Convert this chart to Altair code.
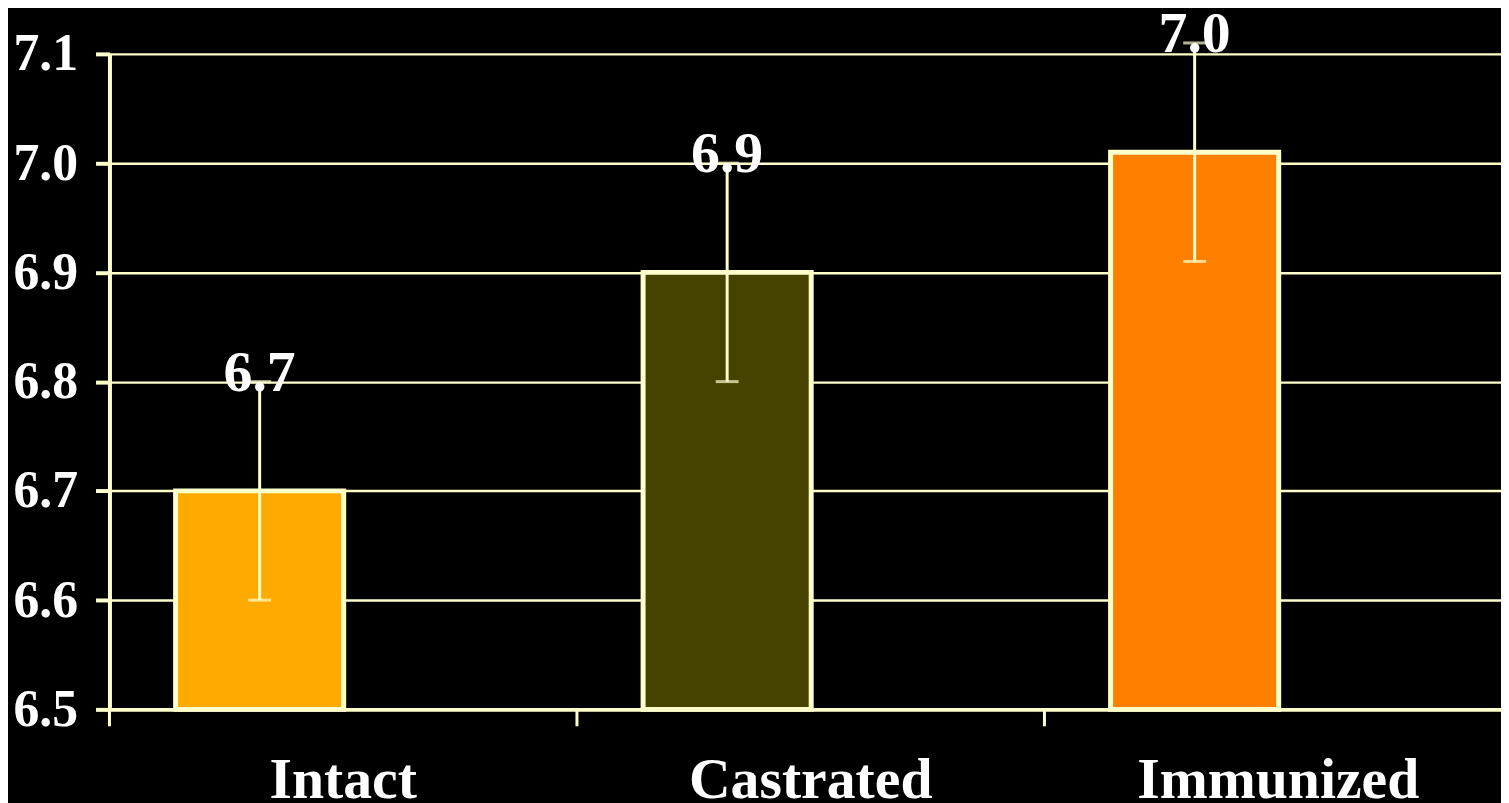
import altair as alt
import pandas as pd

categories = ["Intact", "Castrated", "Immunized"]
means = [6.70, 6.90, 7.01]
errors = [0.10, 0.10, 0.10]
value_labels = ["6.7", "6.9", "7.0"]
bar_colors = ["#FFAA00", "#464200", "#FF8000"]
y_ticks = [6.5, 6.6, 6.7, 6.8, 6.9, 7.0, 7.1]

df = pd.DataFrame({"group": categories, "mean": means, "err": errors, "label": value_labels})
df["lo"] = df["mean"] - df["err"]
df["hi"] = df["mean"] + df["err"]

CREAM = "#FFFFCC"
FONT = "Liberation Serif"
W = 1399
H = 659
OFF = -84

xscale = alt.Scale(domain=categories, range=[0, 1410], paddingInner=0, paddingOuter=0)
yscale = alt.Scale(domain=[6.5, 7.1], nice=False, zero=False)

x_lab = alt.X(
    "group:N", sort=categories, scale=xscale, title=None,
    axis=alt.Axis(
        labelAngle=0, ticks=False, tickSize=0, labelPadding=89, labelBaseline="alphabetic",
        labelFont=FONT, labelFontSize=58, labelFontWeight="bold", labelColor="white",
        labelLimit=0, labelOverlap=False,
        domainColor=CREAM, domainWidth=4, grid=False,
    ),
)
y_ax = alt.Y(
    "mean:Q", scale=yscale, title=None,
    axis=alt.Axis(
        values=y_ticks, format=".1f", grid=True, gridColor=CREAM, gridWidth=2.5,
        domainColor=CREAM, domainWidth=4, tickColor=CREAM, tickSize=14, tickWidth=4,
        labelFont=FONT, labelFontSize=52, labelFontWeight="bold", labelColor="white",
        labelPadding=18, labelOverlap=False,
    ),
)

base = alt.Chart(df)

bars = base.mark_bar(size=169, xOffset=OFF, stroke=CREAM, strokeWidth=5).encode(
    x=x_lab,
    y=y_ax,
    y2=alt.datum(6.5),
    color=alt.Color("group:N", scale=alt.Scale(domain=categories, range=bar_colors), legend=None),
)

xticks = base.mark_rule(color=CREAM, strokeWidth=3).encode(
    x=alt.X("group:N", sort=categories, scale=xscale, bandPosition=0),
    y=alt.value(H),
    y2=alt.value(H + 17),
)

err = base.mark_rule(xOffset=OFF, color=CREAM, strokeWidth=3).encode(
    x=alt.X("group:N", sort=categories, scale=xscale),
    y=alt.Y("lo:Q", scale=yscale),
    y2="hi:Q",
)
cap_lo = base.mark_tick(xOffset=OFF, size=23, thickness=3, color=CREAM).encode(
    x=alt.X("group:N", sort=categories, scale=xscale),
    y=alt.Y("lo:Q", scale=yscale),
)
cap_hi = base.mark_tick(xOffset=OFF, size=23, thickness=3, color=CREAM).encode(
    x=alt.X("group:N", sort=categories, scale=xscale),
    y=alt.Y("hi:Q", scale=yscale),
)
labels = base.mark_text(
    xOffset=OFF, dy=9, baseline="alphabetic", align="center",
    font=FONT, fontSize=58, fontWeight="bold", color="white",
).encode(
    x=alt.X("group:N", sort=categories, scale=xscale),
    y=alt.Y("hi:Q", scale=yscale),
    text="label:N",
)

chart = (
    alt.layer(bars, xticks, err, cap_lo, cap_hi, labels)
    .properties(
        width=W, height=H, background="black",
        autosize=alt.AutoSizeParams(type="none"),
        padding={"left": 102, "top": 44, "right": 0, "bottom": 92},
    )
    .configure_view(stroke=None)
)

chart.save("out.html", embed_options={"renderer": "svg", "actions": False})
